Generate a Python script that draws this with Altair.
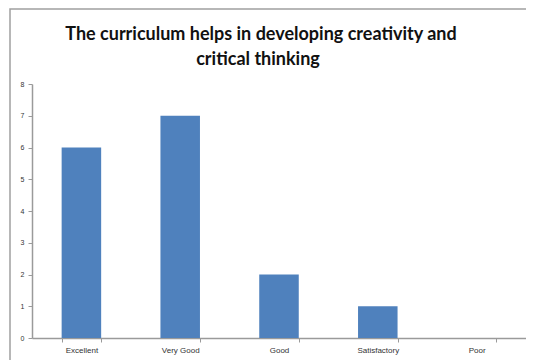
import altair as alt
import pandas as pd

categories = ["Excellent", "Very Good", "Good", "Satisfactory", "Poor"]
values = [6, 7, 2, 1, 0]
title_lines = ["The curriculum helps in developing creativity and", "critical thinking"]

df = pd.DataFrame({"category": categories, "value": values})

bars = alt.Chart(df).mark_bar(color="#4F81BD").encode(
    x=alt.X("category:N", sort=categories, title=None,
            scale=alt.Scale(paddingInner=0.6, paddingOuter=0.3),
            axis=alt.Axis(labelAngle=0, labelFontSize=8, labelColor="#333333",
                          labelFont="Liberation Sans", tickBand="extent",
                          domainColor="#9a9a9a", tickColor="#9a9a9a", tickSize=4,
                          domainWidth=1.5, labelPadding=4)),
    y=alt.Y("value:Q", title=None,
            scale=alt.Scale(domain=[0, 8], nice=False),
            axis=alt.Axis(values=list(range(0, 9)), grid=False, labelFontSize=7,
                          labelColor="#333333", labelFont="Liberation Sans",
                          domainColor="#9a9a9a", tickColor="#9a9a9a", tickSize=4,
                          domainWidth=1.5, labelPadding=4)),
)

border = alt.Chart(pd.DataFrame({"a": [0]})).mark_rect(
    fill=None, stroke="#a0a0a0", strokeWidth=1.5, clip=False
).encode(
    x=alt.value(-22), x2=alt.value(560), y=alt.value(-75), y2=alt.value(400)
)

title1 = alt.Chart(pd.DataFrame({"t": [title_lines[0]]})).mark_text(
    font="Lato", fontSize=18, fontWeight="bold", color="#111111",
    align="center", baseline="alphabetic", clip=False
).encode(text="t:N", x=alt.value(229), y=alt.value(-44))

title2 = alt.Chart(pd.DataFrame({"t": [title_lines[1]]})).mark_text(
    font="Lato", fontSize=18, fontWeight="bold", color="#111111",
    align="center", baseline="alphabetic", clip=False
).encode(text="t:N", x=alt.value(226), y=alt.value(-19))

chart = alt.layer(border, bars, title1, title2).properties(
    width=494, height=254,
    autosize=alt.AutoSizeParams(type="none"),
    padding={"left": 24, "top": 76, "right": 0, "bottom": 22},
).configure_view(stroke=None)

chart.save("out.html", embed_options={"renderer": "svg", "actions": False})
